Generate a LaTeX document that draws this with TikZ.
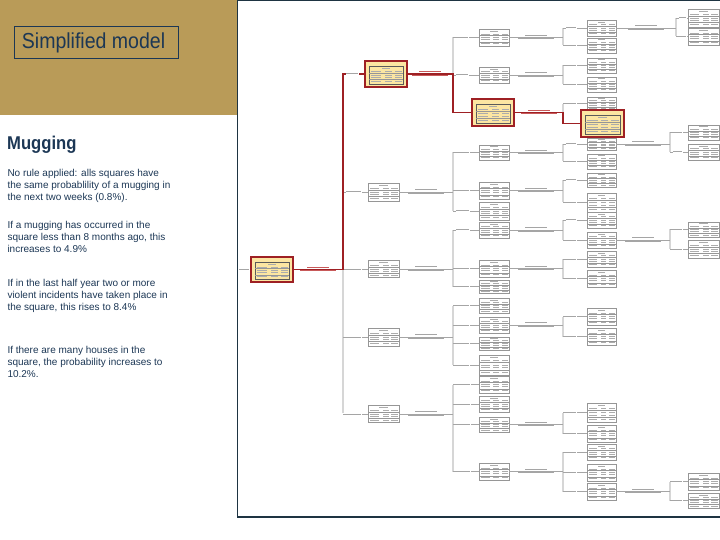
\documentclass[tikz,border=0pt]{standalone}
\usepackage{fontspec}
\setmainfont{Liberation Sans}
\newfontfamily\narrowfont[FakeStretch=0.9]{Liberation Sans}
\usetikzlibrary{calc}
\definecolor{panelTan}{RGB}{185,155,88}
\definecolor{navy}{RGB}{28,55,85}
\definecolor{frameCol}{RGB}{30,52,66}
\definecolor{hred}{RGB}{158,32,36}
\definecolor{hyel}{RGB}{252,230,162}
\definecolor{vgray}{RGB}{214,214,214}
\definecolor{lgray}{RGB}{165,165,165}
\definecolor{boxgray}{RGB}{150,150,150}
\definecolor{bargray}{RGB}{172,172,172}
\definecolor{labred}{RGB}{200,90,90}
\tikzset{
  tnode/.style={draw=boxgray, line width=0.5pt, fill=white, inner sep=0pt, rectangle},
  hnode/.style={draw=hred, line width=1.5pt, fill=hyel, inner sep=0pt, rectangle},
  vline/.style={draw=vgray, line width=2.2pt},
  bline/.style={draw=lgray, line width=0.7pt},
  rline/.style={draw=hred, line width=1.6pt},
  bodytext/.style={anchor=base west, inner sep=0pt, text=navy, font=\fontsize{10}{12}\selectfont},
}
\newcommand\TRow[1]{%
  \fill[bargray] (\xa,#1-0.4) rectangle (\xb,#1+0.4);
  \fill[bargray] (\xc,#1-0.4) rectangle (\xd,#1+0.4);
  \fill[bargray] (\xe,#1-0.4) rectangle (\xf,#1+0.4);}
\newcommand\NodeGuts[2]{%
  \pgfmathsetmacro\gw{#1}\pgfmathsetmacro\gh{#2}%
  \pgfmathsetmacro\xa{-\gw/2+1.5}\pgfmathsetmacro\xb{-\gw/2+0.36*\gw}%
  \pgfmathsetmacro\xc{-0.03*\gw}\pgfmathsetmacro\xd{0.17*\gw}%
  \pgfmathsetmacro\xe{0.25*\gw}\pgfmathsetmacro\xf{\gw/2-1.5}%
  \pgfmathsetmacro\yt{-\gh/2}%
  \fill[bargray] (-0.13*\gw,\yt+0.1*\gh) rectangle (0.13*\gw,\yt+0.1*\gh+0.8);
  \TRow{\yt+0.29*\gh}
  \draw[boxgray, line width=0.3pt] (-\gw/2,\yt+0.38*\gh) -- (\gw/2,\yt+0.38*\gh);
  \TRow{\yt+0.5*\gh}
  \TRow{\yt+0.64*\gh}
  \draw[boxgray, line width=0.3pt] (-\gw/2,\yt+0.75*\gh) -- (\gw/2,\yt+0.75*\gh);
  \TRow{\yt+0.86*\gh}}
\newcommand\TN[5]{%
  \node[tnode, minimum width=#4pt, minimum height=#5pt] (#1) at (#2,#3) {};
  \begin{scope}[shift={(#2,#3)}]\NodeGuts{#4}{#5}\end{scope}}
\newcommand\HN[5]{%
  \node[hnode, minimum width=#4pt, minimum height=#5pt] (#1) at (#2,#3) {};
  \begin{scope}[shift={(#2,#3)}]
    \pgfmathsetmacro\iw{#4-8}\pgfmathsetmacro\ih{#5-8}
    \draw[boxgray!60!black, line width=0.4pt] (-\iw/2,-\ih/2+1) rectangle (\iw/2,\ih/2+1);
    \begin{scope}[shift={(0,1)}]\NodeGuts{\iw}{\ih}\end{scope}
  \end{scope}}
% branch label on the line to a child
\newcommand\BLab[3]{% child, vertical coordinate, length
  \fill[white] ($(#1.west -| #2)+(2.5,-1)$) rectangle ($(#1.west -| #2)+(3.5+#3,1)$);
  \fill[lgray] ($(#1.west -| #2)+(3,-0.5)$) rectangle ($(#1.west -| #2)+(3+#3,0.5)$);}
% connector label between parent and its vertical line
\newcommand\CLab[3]{% parent, vertical coordinate, colour
  \path ($(#1.east)!0.5!(#1.east -| #2)$) coordinate (cl);
  \fill[#3] ($(cl)+(-11,-2.7)$) rectangle ($(cl)+(11,-1.8)$);
  \fill[#3] ($(cl)+(-18,0.6)$) rectangle ($(cl)+(18,1.5)$);}
\begin{document}
\begin{tikzpicture}[x=1pt,y=-1pt]
\useasboundingbox (0,0) rectangle (720,540);
% ---------- left panel ----------
\fill[panelTan] (0,0) rectangle (236.5,115);
\draw[navy, line width=0.8pt] (14.5,26.5) rectangle (178,58);
\node[anchor=base west, inner sep=0pt, text=navy, font=\narrowfont\fontsize{21.7}{24}\selectfont] (title) at (21.7,49) {Simplified model};
\node[anchor=base west, inner sep=0pt, text=navy, font=\narrowfont\bfseries\fontsize{18.5}{20}\selectfont] (head) at (7,150) {Mugging};
\node[bodytext] (p1a) at (7.3,176.5) {No rule applied: alls squares have};
\node[bodytext] (p1b) at (7.3,188.8) {the same probablility of a mugging in};
\node[bodytext] (p1c) at (7.3,201) {the next two weeks (0.8\%).};
\node[bodytext] (p2a) at (7.3,228.5) {If a mugging has occurred in the};
\node[bodytext] (p2b) at (7.3,240.6) {square less than 8 months ago, this};
\node[bodytext] (p2c) at (7.3,252.7) {increases to 4.9\%};
\node[bodytext] (p3a) at (7.3,286) {If in the last half year two or more};
\node[bodytext] (p3b) at (7.3,298.5) {violent incidents have taken place in};
\node[bodytext] (p3c) at (7.3,310.6) {the square, this rises to 8.4\%};
\node[bodytext] (p4a) at (7.3,353) {If there are many houses in the};
\node[bodytext] (p4b) at (7.3,365.5) {square, the probability increases to};
\node[bodytext] (p4c) at (7.3,377.7) {10.2\%.};
% ---------- right panel frame ----------
\draw[frameCol, line width=1.5pt] (721,0.75) -- (237.5,0.75) -- (237.5,517) -- (721,517);
% ---------- vertical split coordinates ----------
\coordinate (V0) at (343,0);
\coordinate (V1) at (453,0);
\coordinate (V2) at (563,0);
\coordinate (V3a) at (676,0);
\coordinate (V3b) at (670,0);
% ---------- connectors ----------
% level 0 -> 1
\path (343,75) coordinate (v0top) (343,413) coordinate (v0bot);
\draw[vline] (v0top) -- (v0bot);
\path (453,37) coordinate (v1a) (453,113) coordinate (v1b);
\draw[vline] (v1a) -- (v1b);
\path (563,104) coordinate (v2a) (563,124) coordinate (v2b);
\draw[vline] (v2a) -- (v2b);
% ---------- nodes ----------
\HN{R}{272}{269.5}{42}{25}
\HN{H1}{386}{74}{42}{26}
\TN{A1}{383.5}{192}{31}{18}
\TN{A2}{383.5}{269}{31}{17}
\TN{A3}{383.5}{337}{31}{18}
\TN{A4}{383.5}{414}{31}{17}
\TN{B1}{494}{37.5}{30}{17}
\TN{B2}{494}{75}{30}{16}
\HN{H2}{493}{112.5}{42}{27}
\TN{B3}{494}{152.5}{30}{15}
\TN{B4}{494}{190.5}{30}{17}
\TN{B5}{494}{211}{30}{18}
\TN{B6}{494}{230}{30}{16}
\TN{B7}{494}{268.5}{30}{17}
\TN{B8}{494}{286.5}{30}{13}
\TN{B9}{494}{305.5}{30}{15}
\TN{B10}{494}{325}{30}{16}
\TN{B11}{494}{343.5}{30}{13}
\TN{B12}{494}{365}{30}{20}
\TN{B13}{494}{384.5}{30}{17}
\TN{B14}{494}{404}{30}{16}
\TN{B15}{494}{424.5}{30}{15}
\TN{B16}{494}{471.5}{30}{17}
\TN{C1}{601.5}{28}{29}{16}
\TN{C2}{601.5}{45.5}{29}{15}
\TN{C3}{601.5}{65.5}{29}{15}
\TN{C4}{601.5}{84.5}{29}{15}
\TN{C5}{601.5}{103.5}{29}{13}
\HN{H3}{602.5}{123.5}{43}{27}
\TN{C6}{601.5}{144}{29}{12}
\TN{C7}{601.5}{161.5}{29}{15}
\TN{C8}{601.5}{180}{29}{14}
\TN{C9}{601.5}{202.5}{29}{19}
\TN{C10}{601.5}{220}{29}{16}
\TN{C11}{601.5}{240}{29}{16}
\TN{C12}{601.5}{259}{29}{16}
\TN{C13}{601.5}{278.5}{29}{17}
\TN{C14}{601.5}{316.5}{29}{17}
\TN{C15}{601.5}{336.5}{29}{17}
\TN{C16}{601.5}{412.5}{29}{19}
\TN{C17}{601.5}{433.5}{29}{17}
\TN{C18}{601.5}{452}{29}{16}
\TN{C19}{601.5}{472.5}{29}{17}
\TN{C20}{601.5}{491.5}{29}{17}
\TN{D1}{703.5}{18}{31}{18}
\TN{D2}{703.5}{36.5}{31}{17}
\TN{D3}{703.5}{132.5}{31}{15}
\TN{D4}{703.5}{152}{31}{16}
\TN{D5}{703.5}{229.5}{31}{15}
\TN{D6}{703.5}{249}{31}{18}
\TN{D7}{703.5}{481.5}{31}{17}
\TN{D8}{703.5}{500.5}{31}{15}
% level 0 -> 1
\foreach \c in {A1,A2,A3,A4} {\draw[bline] (\c.west -| V0) -- (\c.west); \BLab{\c}{V0}{15}}
\draw[rline] (R.east) -- (R.east -| V0) -- (H1.west -| V0) -- (H1.west);
\BLab{H1}{V0}{12}
\CLab{R}{V0}{labred}
\fill[lgray] (239,268.9) rectangle (249,269.9);
% level 1 -> 2
\foreach \c in {B1,B2} {\draw[bline] (\c.west -| V1) -- (\c.west); \BLab{\c}{V1}{12}}
\draw[rline] (H1.east) -- (H1.east -| V1) -- (H2.west -| V1) -- (H2.west);
\CLab{H1}{V1}{labred}
\draw[vline] (B3.west -| V1) -- (B5.west -| V1);
\foreach \c in {B3,B4,B5} {\draw[bline] (\c.west -| V1) -- (\c.west); \BLab{\c}{V1}{13}}
\draw[bline] (A1.east) -- (A1.east -| V1); \CLab{A1}{V1}{lgray}
\draw[vline] (B6.west -| V1) -- (B8.west -| V1);
\foreach \c in {B6,B7,B8} {\draw[bline] (\c.west -| V1) -- (\c.west); \BLab{\c}{V1}{13}}
\draw[bline] (A2.east) -- (A2.east -| V1); \CLab{A2}{V1}{lgray}
\draw[vline] (B9.west -| V1) -- (B12.west -| V1);
\foreach \c in {B9,B10,B11,B12} {\draw[bline] (\c.west -| V1) -- (\c.west); \BLab{\c}{V1}{13}}
\draw[bline] (A3.east) -- (A3.east -| V1); \CLab{A3}{V1}{lgray}
\draw[vline] (B13.west -| V1) -- (B16.west -| V1);
\foreach \c in {B13,B14,B15,B16} {\draw[bline] (\c.west -| V1) -- (\c.west); \BLab{\c}{V1}{14}}
\draw[bline] (A4.east) -- (A4.east -| V1); \CLab{A4}{V1}{lgray}
% level 2 -> 3
\draw[vline] (C1.west -| V2) -- (C2.west -| V2);
\foreach \c in {C1,C2} {\draw[bline] (\c.west -| V2) -- (\c.west); \BLab{\c}{V2}{10}}
\draw[bline] (B1.east) -- (B1.east -| V2); \CLab{B1}{V2}{lgray}
\draw[vline] (C3.west -| V2) -- (C4.west -| V2);
\foreach \c in {C3,C4} {\draw[bline] (\c.west -| V2) -- (\c.west); \BLab{\c}{V2}{10}}
\draw[bline] (B2.east) -- (B2.east -| V2); \CLab{B2}{V2}{lgray}
\draw[bline] (C5.west -| V2) -- (C5.west); \BLab{C5}{V2}{10}
\draw[rline] (H2.east) -- (H2.east -| V2) -- (H3.west -| V2) -- (H3.west);
\CLab{H2}{V2}{labred}
\draw[vline] (C6.west -| V2) -- (C7.west -| V2);
\foreach \c in {C6,C7} {\draw[bline] (\c.west -| V2) -- (\c.west); \BLab{\c}{V2}{10}}
\draw[bline] (B3.east) -- (B3.east -| V2); \CLab{B3}{V2}{lgray}
\draw[vline] (C8.west -| V2) -- (C9.west -| V2);
\foreach \c in {C8,C9} {\draw[bline] (\c.west -| V2) -- (\c.west); \BLab{\c}{V2}{10}}
\draw[bline] (B4.east) -- (B4.east -| V2); \CLab{B4}{V2}{lgray}
\draw[vline] (C10.west -| V2) -- (C11.west -| V2);
\foreach \c in {C10,C11} {\draw[bline] (\c.west -| V2) -- (\c.west); \BLab{\c}{V2}{10}}
\draw[bline] (B6.east) -- (B6.east -| V2); \CLab{B6}{V2}{lgray}
\draw[vline] (C12.west -| V2) -- (C13.west -| V2);
\foreach \c in {C12,C13} {\draw[bline] (\c.west -| V2) -- (\c.west); \BLab{\c}{V2}{10}}
\draw[bline] (B7.east) -- (B7.east -| V2); \CLab{B7}{V2}{lgray}
\draw[vline] (C14.west -| V2) -- (C15.west -| V2);
\foreach \c in {C14,C15} {\draw[bline] (\c.west -| V2) -- (\c.west); \BLab{\c}{V2}{10}}
\draw[bline] (B10.east) -- (B10.east -| V2); \CLab{B10}{V2}{lgray}
\draw[vline] (C16.west -| V2) -- (C17.west -| V2);
\foreach \c in {C16,C17} {\draw[bline] (\c.west -| V2) -- (\c.west); \BLab{\c}{V2}{10}}
\draw[bline] (B15.east) -- (B15.east -| V2); \CLab{B15}{V2}{lgray}
\draw[vline] (C18.west -| V2) -- (C20.west -| V2);
\foreach \c in {C18,C19,C20} {\draw[bline] (\c.west -| V2) -- (\c.west); \BLab{\c}{V2}{10}}
\draw[bline] (B16.east) -- (B16.east -| V2); \CLab{B16}{V2}{lgray}
% level 3 -> 4
\draw[vline] (D1.west -| V3a) -- (D2.west -| V3a);
\foreach \c in {D1,D2} {\draw[bline] (\c.west -| V3a) -- (\c.west); \BLab{\c}{V3a}{7}}
\draw[bline] (C1.east) -- (C1.east -| V3a); \CLab{C1}{V3a}{lgray}
\draw[vline] (D3.west -| V3b) -- (D4.west -| V3b);
\foreach \c in {D3,D4} {\draw[bline] (\c.west -| V3b) -- (\c.west); \BLab{\c}{V3b}{9}}
\draw[bline] (C6.east) -- (C6.east -| V3b); \CLab{C6}{V3b}{lgray}
\draw[vline] (D5.west -| V3b) -- (D6.west -| V3b);
\foreach \c in {D5,D6} {\draw[bline] (\c.west -| V3b) -- (\c.west); \BLab{\c}{V3b}{9}}
\draw[bline] (C11.east) -- (C11.east -| V3b); \CLab{C11}{V3b}{lgray}
\draw[vline] (D7.west -| V3b) -- (D8.west -| V3b);
\foreach \c in {D7,D8} {\draw[bline] (\c.west -| V3b) -- (\c.west); \BLab{\c}{V3b}{9}}
\draw[bline] (C20.east) -- (C20.east -| V3b); \CLab{C20}{V3b}{lgray}
\end{tikzpicture}
\end{document}
